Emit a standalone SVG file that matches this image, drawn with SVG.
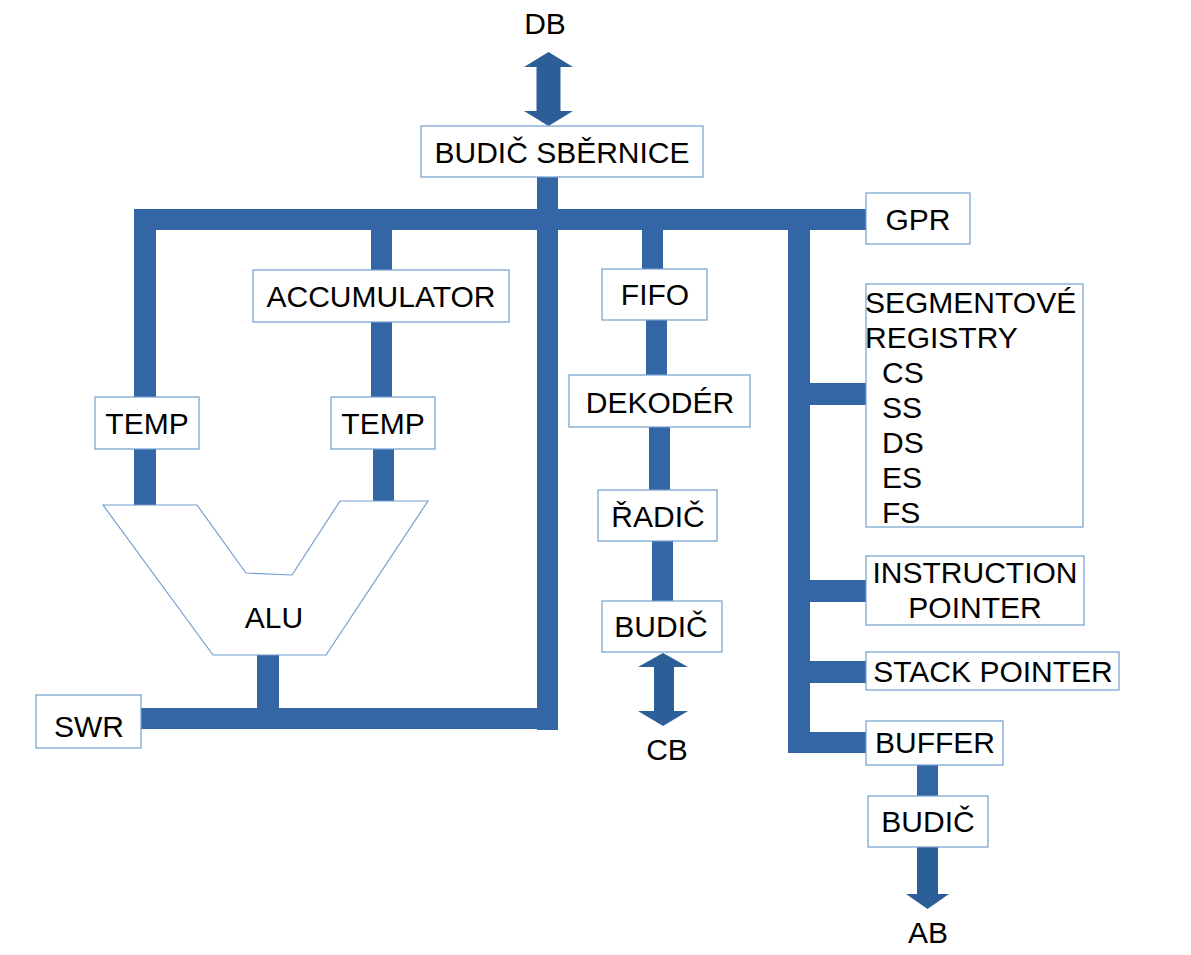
<svg xmlns="http://www.w3.org/2000/svg" width="1191" height="955" viewBox="0 0 1191 955">
<style>
.bus{fill:#3465a4}
.arr{fill:#2c5f98}
.box{fill:#ffffff;stroke:#729fcf;stroke-width:1.2}
text{font-family:"Liberation Sans",Arial,sans-serif;font-size:30px;fill:#000000}
.c{text-anchor:middle}
</style>
<rect width="1191" height="955" fill="#ffffff"/>
<g id="connectors">
<rect class="bus" x="134" y="209" width="732" height="21"/>
<rect class="bus" x="537" y="177" width="21" height="33"/>
<rect class="bus" x="134" y="209" width="22" height="296"/>
<rect class="bus" x="371" y="229" width="21" height="41"/>
<rect class="bus" x="371" y="322" width="21" height="75"/>
<rect class="bus" x="373" y="449" width="21" height="53"/>
<rect class="bus" x="537" y="209" width="21" height="521"/>
<rect class="bus" x="141" y="708" width="417" height="21"/>
<rect class="bus" x="257" y="654" width="22" height="75"/>
<rect class="bus" x="642" y="229" width="21" height="40"/>
<rect class="bus" x="646" y="320" width="21" height="55"/>
<rect class="bus" x="649" y="427" width="21" height="63"/>
<rect class="bus" x="652" y="541" width="21" height="60"/>
<rect class="bus" x="788" y="209" width="22" height="544"/>
<rect class="bus" x="809" y="383" width="57" height="22"/>
<rect class="bus" x="809" y="580" width="57" height="22"/>
<rect class="bus" x="809" y="661" width="57" height="22"/>
<rect class="bus" x="788" y="732" width="78" height="21"/>
<rect class="bus" x="917" y="765" width="21" height="31"/>
<polygon id="arrow-db" class="arr" points="548.5,52 573,67 560.5,67 560.5,111 573,111 548.5,126 524,111 536.5,111 536.5,67 524,67"/>
<polygon id="arrow-cb" class="arr" points="663,653 688,667 674,667 674,711 688,711 663,726 638,711 654,711 654,667 638,667"/>
<polygon id="arrow-ab" class="arr" points="917,847 938,847 938,894 949,894 927.5,909 906,894 917,894"/>
</g>
<g id="db-label"><text class="c" x="545" y="34">DB</text></g>
<g id="budic-sbernice"><rect class="box" x="421" y="126" width="282" height="51"/><text class="c" x="562" y="163">BUDIČ SBĚRNICE</text></g>
<g id="gpr"><rect class="box" x="866" y="193" width="104" height="51"/><text class="c" x="918" y="230">GPR</text></g>
<g id="accumulator"><rect class="box" x="253" y="270" width="256" height="52"/><text class="c" x="381" y="307">ACCUMULATOR</text></g>
<g id="temp-left"><rect class="box" x="95" y="397" width="104" height="52"/><text class="c" x="147" y="434">TEMP</text></g>
<g id="temp-right"><rect class="box" x="331" y="397" width="104" height="52"/><text class="c" x="383" y="434">TEMP</text></g>
<g id="alu"><polygon class="box" points="103,505 197,505 246,573 292,575 340,501 428,501 326,655 213,655"/><text class="c" x="274" y="628">ALU</text></g>
<g id="swr"><rect class="box" x="36" y="695" width="105" height="53"/><text class="c" x="89" y="737">SWR</text></g>
<g id="fifo"><rect class="box" x="602" y="269" width="105" height="51"/><text class="c" x="655" y="305">FIFO</text></g>
<g id="dekoder"><rect class="box" x="569" y="375" width="181" height="52"/><text class="c" x="660" y="413">DEKODÉR</text></g>
<g id="radic"><rect class="box" x="598" y="490" width="119" height="51"/><text class="c" x="658" y="527">ŘADIČ</text></g>
<g id="budic-cb"><rect class="box" x="602" y="601" width="120" height="51"/><text class="c" x="661" y="637">BUDIČ</text></g>
<g id="cb-label"><text class="c" x="667" y="760">CB</text></g>
<g id="segmentove-registry"><rect class="box" x="866" y="284" width="217" height="243"/>
<text x="865" y="313">SEGMENTOVÉ</text>
<text x="865" y="348">REGISTRY</text>
<text x="882" y="383">CS</text>
<text x="882" y="418">SS</text>
<text x="882" y="453">DS</text>
<text x="882" y="488">ES</text>
<text x="882" y="523">FS</text>
</g>
<g id="instruction-pointer"><rect class="box" x="866" y="556" width="218" height="69"/><text class="c" x="975" y="583">INSTRUCTION</text><text class="c" x="975" y="618">POINTER</text></g>
<g id="stack-pointer"><rect class="box" x="866" y="652" width="253" height="38"/><text class="c" x="993" y="682">STACK POINTER</text></g>
<g id="buffer"><rect class="box" x="866" y="721" width="137" height="44"/><text class="c" x="935" y="753">BUFFER</text></g>
<g id="budic-ab"><rect class="box" x="868" y="796" width="120" height="51"/><text class="c" x="928" y="832">BUDIČ</text></g>
<g id="ab-label"><text class="c" x="928" y="943">AB</text></g>
</svg>
